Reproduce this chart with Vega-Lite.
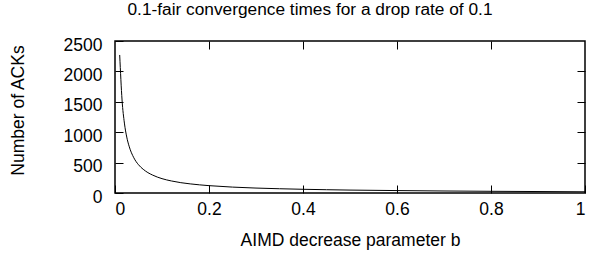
{
  "$schema": "https://vega.github.io/schema/vega-lite/v6.json",
  "autosize": "none",
  "width": 470,
  "height": 152,
  "padding": {"left": 115, "top": 41, "right": 8, "bottom": 61},
  "background": "white",
  "config": {
    "font": "Liberation Sans",
    "view": {"stroke": "black", "strokeWidth": 1.5},
    "axis": {"grid": false, "domain": false, "tickColor": "black", "tickSize": -8, "tickWidth": 1, "labelColor": "black", "labelFontSize": 17.5, "titleFontSize": 17.5, "titleFontWeight": "normal", "titleColor": "black", "labelFont": "Liberation Sans", "titleFont": "Liberation Sans"}
  },
  "title": {"text": "0.1-fair convergence times for a drop rate of 0.1", "fontSize": 17.3, "fontWeight": "normal", "font": "Liberation Sans", "anchor": "middle", "dx": -40, "offset": 18, "color": "black"},
  "data": {"values": [
    {"b": 0.01, "acks": 2270},
    {"b": 0.015, "acks": 1530},
    {"b": 0.02, "acks": 1150},
    {"b": 0.025, "acks": 920},
    {"b": 0.03, "acks": 770},
    {"b": 0.04, "acks": 580},
    {"b": 0.05, "acks": 465},
    {"b": 0.06, "acks": 390},
    {"b": 0.07, "acks": 335},
    {"b": 0.08, "acks": 295},
    {"b": 0.09, "acks": 262},
    {"b": 0.1, "acks": 236},
    {"b": 0.12, "acks": 198},
    {"b": 0.14, "acks": 170},
    {"b": 0.16, "acks": 150},
    {"b": 0.18, "acks": 134},
    {"b": 0.2, "acks": 121},
    {"b": 0.25, "acks": 97},
    {"b": 0.3, "acks": 81},
    {"b": 0.35, "acks": 70},
    {"b": 0.4, "acks": 61},
    {"b": 0.45, "acks": 54},
    {"b": 0.5, "acks": 48},
    {"b": 0.6, "acks": 40},
    {"b": 0.7, "acks": 33},
    {"b": 0.8, "acks": 28},
    {"b": 0.9, "acks": 24},
    {"b": 1.0, "acks": 20}
  ]},
  "layer": [
    {
      "mark": {"type": "line", "color": "black", "strokeWidth": 1, "interpolate": "monotone", "clip": true},
      "encoding": {
        "x": {"field": "b", "type": "quantitative", "scale": {"domain": [0, 1], "nice": false}, "axis": {"orient": "bottom", "values": [0, 0.2, 0.4, 0.6, 0.8, 1], "format": "~g", "labelPadding": 15, "title": "AIMD decrease parameter b", "titlePadding": 14}},
        "y": {"field": "acks", "type": "quantitative", "scale": {"domain": [0, 2500], "nice": false}, "axis": {"orient": "left", "values": [0, 500, 1000, 1500, 2000, 2500], "format": "d", "labelPadding": 21, "labelOffset": 4, "title": "Number of ACKs", "titleX": -97, "titleY": 69, "titleAngle": -90, "titleAlign": "center", "titleBaseline": "middle"}}
      }
    },
    {
      "mark": {"type": "line", "opacity": 0},
      "encoding": {
        "x": {"field": "b", "type": "quantitative", "axis": {"orient": "top", "values": [0.2, 0.4, 0.6, 0.8], "labels": false, "title": null}},
        "y": {"field": "acks", "type": "quantitative", "axis": {"orient": "right", "values": [500, 1000, 1500, 2000], "labels": false, "title": null}}
      }
    }
  ],
  "resolve": {"axis": {"x": "independent", "y": "independent"}}
}
